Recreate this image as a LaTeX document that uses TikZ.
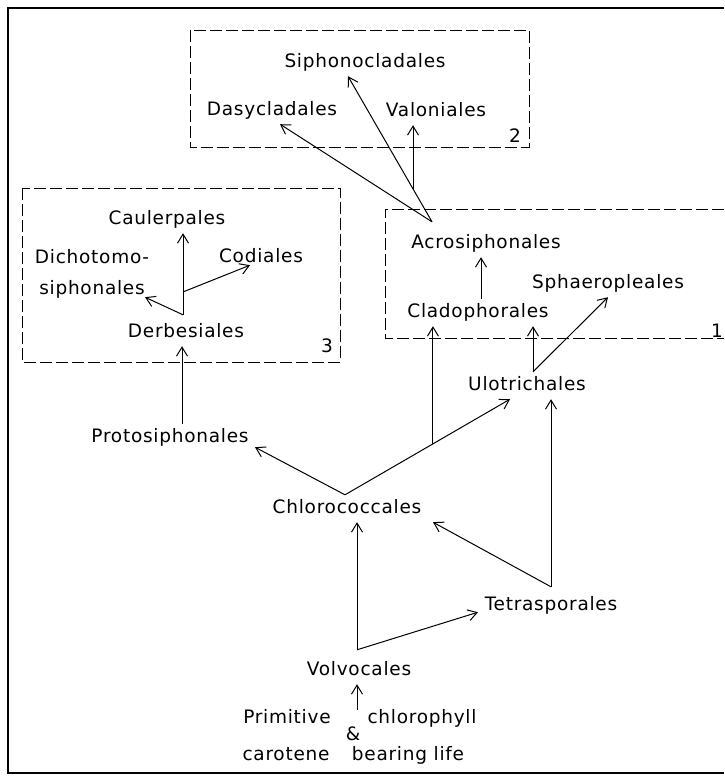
\documentclass[tikz,border=0pt]{standalone}
\usepackage{fontspec}
\setmainfont{DejaVu Sans}[LetterSpace=4]
\usetikzlibrary{arrows.meta}

\begin{document}
\begin{tikzpicture}[x=1pt, y=-1pt,
    lbl/.style={font=\fontsize{18.5}{21}\selectfont, inner sep=5pt, text height=13pt, text depth=4pt, anchor=base},
    num/.style={font=\fontsize{18.5}{21}\selectfont, inner sep=0pt, anchor=base},
    arr/.style={-{Straight Barb[length=9pt,width=11pt]}, line width=1pt},
    grp/.style={line width=0.6pt, dash pattern=on 12pt off 4pt}]
    \useasboundingbox (0,0) rectangle (724,776);
    \draw[line width=1.2pt] (724,8) -| (8,773) -- (724,773);
    \draw[grp] (190,30) rectangle (529,147);
    \draw[grp] (22,188) rectangle (340,362);
    \draw[grp] (724,209) -| (385,338) -- (724,338);

    \node[lbl] (sip) at (365,67) {Siphonocladales};
    \node[lbl] (das) at (272,115) {Dasycladales};
    \node[lbl] (val) at (436,116) {Valoniales};
    \node[lbl] (cau) at (167,224) {Caulerpales};
    \node[lbl] (dic) at (92,263) {Dichotomo-};
    \node[lbl] (dis) at (92,294) {siphonales};
    \node[lbl] (cod) at (261,262) {Codiales};
    \node[lbl] (der) at (186,337) {Derbesiales};
    \node[lbl] (acr) at (486,248) {Acrosiphonales};
    \node[lbl] (sph) at (608,288) {Sphaeropleales};
    \node[lbl] (cla) at (478,317) {Cladophorales};
    \node[lbl] (ulo) at (527,390) {Ulotrichales};
    \node[lbl] (pro) at (170,442) {Protosiphonales};
    \node[lbl] (chl) at (347,513) {Chlorococcales};
    \node[lbl] (tet) at (551,610) {Tetrasporales};
    \node[lbl] (vol) at (359,675) {Volvocales};
    \node[lbl] (pri) at (287,723) {Primitive};
    \node[lbl] (chy) at (422,723) {chlorophyll};
    \node[lbl] (amp) at (353,740) {\&};
    \node[lbl] (car) at (286,760) {carotene};
    \node[lbl] (bea) at (408,760) {bearing life};
    \node[num] (n1) at (717,337) {1};
    \node[num] (n2) at (515,142) {2};
    \node[num] (n3) at (327,352) {3};

    \coordinate (aj) at ([xshift=-54pt,yshift=8pt]acr.north);
    \coordinate (dj) at ([xshift=-3pt,yshift=4pt]der.north);
    \coordinate (uj) at ([xshift=6pt]ulo.north);
    \coordinate (cj) at ([xshift=-2pt]chl.north);
    \coordinate (tj) at ([yshift=5pt]tet.north);
    \coordinate (vj) at ([xshift=-2pt,yshift=7pt]vol.north);
    \coordinate (pj) at ([xshift=12pt]pro.north);
    \coordinate (cn) at ([xshift=3pt]cla.north);

    \draw[arr] (aj) -- ([xshift=8pt]das.south);
    \draw[arr] (aj) -- ([xshift=-17pt]sip.south) coordinate[pos=.226] (ab);
    \draw[arr] (ab) -- (ab |- val.south);
    \draw[arr] (cn) -- (cn |- acr.south);
    \draw[arr] (uj) -- (uj |- cla.south);
    \draw[arr] (uj) -- (sph.south);
    \draw[arr] (dj) -- (dj |- cau.south) coordinate[pos=.28] (db);
    \draw[arr] (dj) -- ([xshift=53pt,yshift=6pt]dis.south);
    \draw[arr] (db) -- ([xshift=-11pt,yshift=6pt]cod.south);
    \draw[arr] (pj) -- (pj |- der.south);
    \draw[arr] (cj) -- ([xshift=85pt,yshift=4pt]pro.south);
    \draw[arr] (cj) -- ([xshift=-17pt]ulo.south) coordinate[pos=.533] (cb);
    \draw[arr] (cb) -- (cb |- cla.south);
    \draw[arr] (tj) -- (tj |- ulo.south);
    \draw[arr] (tj) -- ([xshift=86pt]chl.south);
    \draw[arr] (vj) -- (vj |- chl.south);
    \draw[arr] (vj) -- ([xshift=-73pt,yshift=7pt]tet.south);
    \draw[arr] ([xshift=4pt,yshift=12pt]amp.north) -- (vj |- vol.south);
\end{tikzpicture}
\end{document}
